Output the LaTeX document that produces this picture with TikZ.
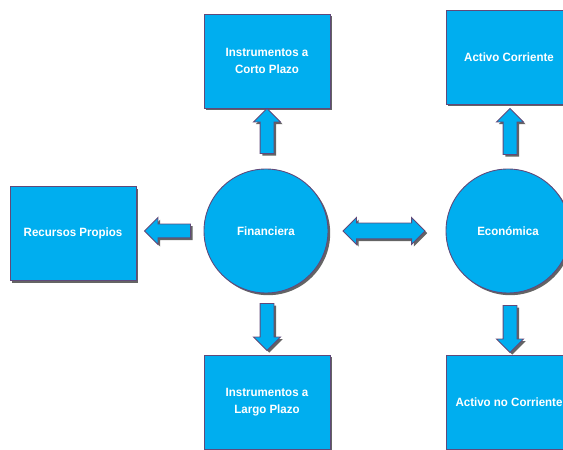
\documentclass[tikz,border=0pt]{standalone}
\usepackage{fontspec}
\setmainfont{Liberation Sans}
\newfontfamily\boxfont[FakeStretch=0.96]{Liberation Sans Bold}
\usetikzlibrary{shapes.arrows,shadows,calc}
\definecolor{cyanfill}{RGB}{0,174,239}
\definecolor{purpline}{RGB}{96,73,122}
\definecolor{shadowgray}{RGB}{100,100,100}
\tikzset{
  myshadow/.style={drop shadow={shadow xshift=2.2pt,shadow yshift=-2.2pt,fill=shadowgray,opacity=1}},
  bluebox/.style={rectangle,draw=purpline,line width=0.9pt,fill=cyanfill,myshadow,
    minimum width=126pt,minimum height=94pt,text=white,align=center,
    font=\boxfont\fontsize{12}{16.7}\selectfont},
  bluecircle/.style={circle,draw=purpline,line width=0.9pt,fill=cyanfill,myshadow,
    minimum size=124pt,inner sep=0pt,text=white,font=\boxfont\fontsize{12}{16.7}\selectfont},
  onearrow/.style={single arrow,draw=purpline,line width=0.9pt,fill=cyanfill,myshadow,
    inner xsep=0pt,inner ysep=6.5pt,minimum width=26pt,single arrow head extend=6.5pt,single arrow tip angle=90},
  twoarrow/.style={double arrow,draw=purpline,line width=0.9pt,fill=cyanfill,myshadow,
    inner xsep=0pt,inner ysep=7.5pt,minimum width=26pt,double arrow head extend=5.5pt,minimum height=82pt}
}
\begin{document}
\begin{tikzpicture}[x=1pt,y=1pt]
\useasboundingbox (0,0) rectangle (563,450);
\clip (0,0) rectangle (563,450);
\node[bluebox] (cp) at (267,389) {Instrumentos a\\Corto Plazo};
\node[bluebox] (ac) at (509,393) {Activo Corriente};
\node[bluebox] (rp) at (73,216.5) {Recursos Propios};
\node[bluebox] (lp) at (267,48) {Instrumentos a\\Largo Plazo};
\node[bluebox] (anc) at (509,48) {Activo no Corriente};
\node[bluecircle] (fin) at (266,219) {Financiera};
\node[bluecircle] (eco) at (508,219) {Económica};
\node[onearrow,minimum height=45pt,rotate=90] (a1) at (267,315.5) {};
\node[onearrow,minimum height=46pt,rotate=180] (a2) at (171,219) {};
\node[onearrow,minimum height=47pt,rotate=-90] (a3) at (267,126.5) {};
\node[twoarrow] (a4) at (384,219) {};
\node[onearrow,minimum height=46pt,rotate=90] (a5) at (510,315) {};
\node[onearrow,minimum height=47pt,rotate=-90] (a6) at (510,124.5) {};
\end{tikzpicture}
\end{document}
